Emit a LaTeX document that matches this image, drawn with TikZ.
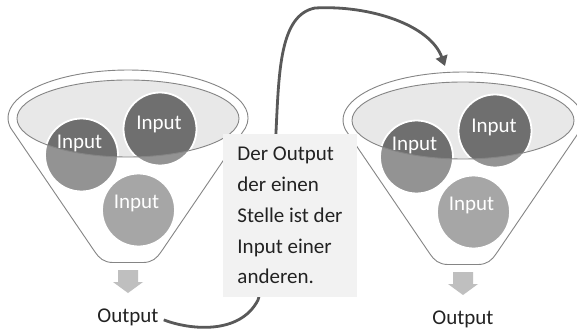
\documentclass[tikz,border=0pt]{standalone}
\usepackage{fontspec}
\setmainfont{Carlito}
\usetikzlibrary{arrows.meta}
\definecolor{rimgray}{HTML}{858585}
\definecolor{topfill}{HTML}{E8E8E8}
\definecolor{darkball}{HTML}{6F6F6F}
\definecolor{midball}{HTML}{939393}
\definecolor{lightball}{HTML}{A6A6A6}
\definecolor{arrowgray}{HTML}{BFBFBF}
\definecolor{boxgray}{HTML}{F2F2F2}
\definecolor{conngray}{HTML}{595959}
\definecolor{txt}{HTML}{222222}
\tikzset{
  funnelline/.style={draw=rimgray, line width=0.9pt},
  ball/.style={circle, inner sep=0pt, minimum size=73pt},
  inlabel/.style={text=white, font=\fontsize{21}{25}\selectfont, inner sep=0pt},
  outlabel/.style={text=txt, font=\fontsize{21}{25}\selectfont, inner sep=0pt},
  textbox/.style={fill=boxgray, minimum width=134pt, minimum height=163pt, align=left, inner sep=0pt, text=txt, font=\fontsize{21}{30.8}\selectfont},
  conn/.style={draw=conngray, line width=2.8pt, -{Triangle[length=10pt,width=12pt]}}
}
\begin{document}
\begin{tikzpicture}[x=1pt,y=-1pt]
\useasboundingbox (0,0) rectangle (577,331);
\fill[white] (0,0) rectangle (577,331);
\foreach \dx/\dy/\nm in {0/0/L,335/2/R}{
\begin{scope}[shift={(\dx,\dy)}]
  \draw[funnelline, fill=white] (245.4,128) arc[start angle=12,end angle=-192,x radius=120,y radius=48]
     -- (95,252) .. controls (99,258) and (104,262.5) .. (113,262.5) -- (143,262.5)
     .. controls (152,262.5) and (157,258) .. (161,252) -- cycle;
  \fill[topfill] (128,118.5) ellipse[x radius=111,y radius=38.5];
  \node[ball, fill=midball] (\nm a) at (81.5,155) {};
  \node[ball, fill=midball] (\nm b) at (160,129) {};
  \node[ball, fill=lightball] (\nm c) at (138.5,210) {};
  \begin{scope}
    \clip (128,118.5) ellipse[x radius=111,y radius=38.5];
    \fill[darkball] (\nm a.center) circle[radius=36.5];
    \fill[darkball] (\nm b.center) circle[radius=36.5];
  \end{scope}
  \draw[white, line width=1.8pt] (\nm a.center) circle[radius=36.5];
  \draw[white, line width=1.8pt] (\nm b.center) circle[radius=36.5];
  \draw[white, line width=1.8pt] (\nm c.center) circle[radius=36.5];
  \draw[funnelline] (128,118.5) ellipse[x radius=111,y radius=38.5];
  \node[inlabel, anchor=base] (\nm ta) at (79.5,148) {Input};
  \node[inlabel, anchor=base] (\nm tb) at (159,130) {Input};
  \node[inlabel, anchor=base] (\nm tc) at (136.5,208) {Input};
  \fill[arrowgray] (118,270) -- (138,270) -- (138,282) -- (143,282) -- (128,293) -- (113,282) -- (118,282) -- cycle;
  \node[outlabel, anchor=base] (\nm out) at (128,322) {Output};
\end{scope}
}
\coordinate (inR) at (445,66);
\draw[conn] ([xshift=5pt,yshift=-3pt]Lout.east) .. controls (190,330) and (240,335) .. (258,300)
   .. controls (270,260) and (272,190) .. (276,132)
   .. controls (279,70) and (280,15) .. (315,8)
   .. controls (370,5) and (430,25) .. (inR);
\node[textbox] (box) at (290,215.5) {Der Output\\der einen\\Stelle ist der\\Input einer\\anderen.};
\end{tikzpicture}
\end{document}
